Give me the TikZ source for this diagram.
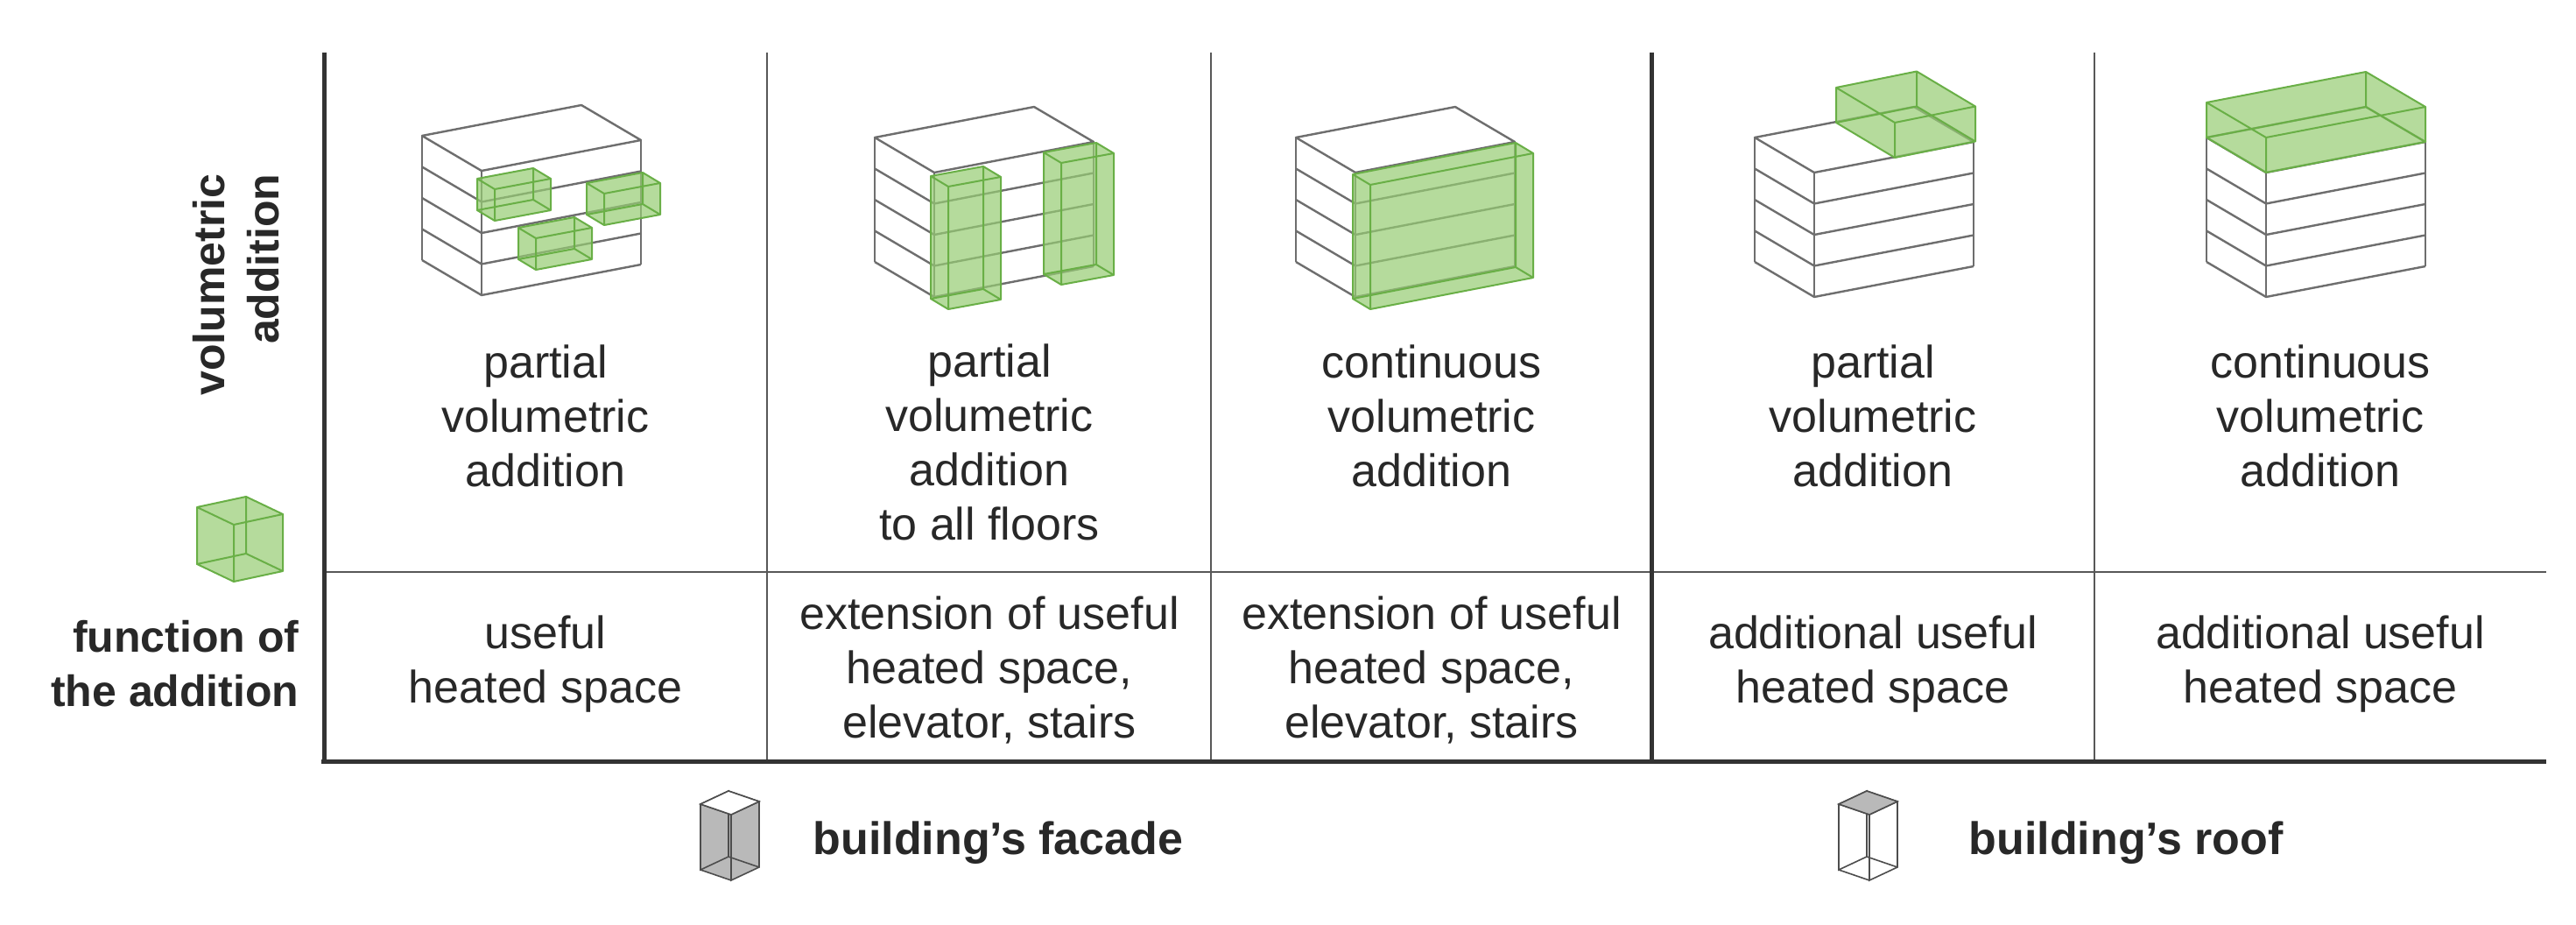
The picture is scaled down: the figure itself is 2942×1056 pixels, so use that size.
\documentclass[tikz,border=0pt]{standalone}
\usepackage{fontspec}
\setmainfont{Liberation Sans}
\usetikzlibrary{calc}
\definecolor{gf}{RGB}{150,205,115}
\definecolor{ge}{RGB}{105,175,70}
\definecolor{ln}{RGB}{110,110,110}
\definecolor{tx}{RGB}{40,40,40}
\tikzset{
  bl/.style={draw=ln,line width=2.4pt,line join=round},
  gedge/.style={draw=ge,line width=2pt,line join=round},
  gfil/.style={fill=gf,fill opacity=0.7},
  grid/.style={draw=ln!80!black,line width=2.6pt},
  thick grid/.style={draw=black!80,line width=5pt},
  lbl/.style={font=\fontsize{52}{62}\selectfont,text=tx,align=center},
  blbl/.style={font=\fontsize{50}{62}\selectfont\bfseries,text=tx},
}
% building: front-top corner
\newcommand\bldg[2]{%
  \draw[bl] (#1,#2) -- ++(-68,-40) -- ++(182,-35) -- ++(68,40) -- cycle;
  \draw[bl] ($(#1,#2)+(-68,-40)$) -- ++(0,142);
  \draw[bl] (#1,#2) -- ++(0,142);
  \draw[bl] ($(#1,#2)+(182,-35)$) -- ++(0,142);
  \foreach \k in {1,...,4}{
    \draw[bl] ($(#1,#2)+(-68,-40)+(0,35.5*\k)$) -- ($(#1,#2)+(0,35.5*\k)$) -- ++(182,-35);}
}
% box: o, a, b, h, fill style, edge style
\newcommand\mybox[9]{%
  \coordinate (o) at (#1,#2);
  \coordinate (oa) at ($(o)+(#3,#4)$);
  \coordinate (ob) at ($(o)+(#5,#6)$);
  \coordinate (oab) at ($(oa)+(#5,#6)$);
  \coordinate (ot) at ($(o)+(0,-#7)$);
  \coordinate (oat) at ($(oa)+(0,-#7)$);
  \coordinate (obt) at ($(ob)+(0,-#7)$);
  \coordinate (oabt) at ($(oab)+(0,-#7)$);
  \fill[#8] (o)--(oa)--(oat)--(oabt)--(obt)--(ob)--cycle;
  \draw[#9] (o)--(oa)--(oat)--(ot)--cycle (ob)--(oab)--(oabt)--(obt)--cycle
    (o)--(ob) (oa)--(oab) (ot)--(obt) (oat)--(oabt);
}
\newcommand\gbox[7]{\mybox{#1}{#2}{#3}{#4}{#5}{#6}{#7}{gfil}{gedge}}
\begin{document}
\begin{tikzpicture}[x=1pt,y=-1pt]
\useasboundingbox (0,0) rectangle (2942,1056);
\fill[white] (0,0) rectangle (2942,1056);
% table
\coordinate (tl) at (370,60);
\draw[grid] (876,60) -- (876,869) (1383,60) -- (1383,869) (2392,60) -- (2392,869);
\draw[grid] (370,653) -- (2908,653);
\draw[thick grid] (370,60) -- (370,869) (1886,60) -- (1886,869);
\draw[thick grid] (367,869) -- (2908,869);
% buildings
\bldg{550}{195}
\gbox{565}{252}{64}{-12}{-20}{-12}{36}
\gbox{690}{257}{64}{-12}{-20}{-12}{36}
\gbox{612}{308}{64}{-12}{-20}{-12}{36}
\bldg{1067}{197}
\gbox{1083}{353}{60}{-11}{-20}{-12}{140}
\gbox{1212}{325}{60}{-11}{-20}{-12}{139}
\bldg{1548}{197}
\gbox{1565}{353}{186}{-36}{-20}{-12}{142}
\bldg{2072}{197}
\gbox{2164}{180}{92}{-18.5}{-67}{-40}{40}
\bldg{2588}{197}
\gbox{2588}{197}{182}{-35}{-68}{-40}{40}
% texts row 1
\node[lbl] (t1) at (623,475) {partial\\volumetric\\addition};
\node[lbl] (t2) at (1130,505) {partial\\volumetric\\addition\\to all floors};
\node[lbl] (t3) at (1635,475) {continuous\\volumetric\\addition};
\node[lbl] (t4) at (2139,475) {partial\\volumetric\\addition};
\node[lbl] (t5) at (2650,475) {continuous\\volumetric\\addition};
% texts row 2
\node[lbl] (f1) at (623,758) {useful\\heated space};
\node[lbl] (f2) at (1130,765) {extension of useful\\heated space,\\elevator, stairs};
\node[lbl] (f3) at (1635,765) {extension of useful\\heated space,\\elevator, stairs};
\node[lbl] (f4) at (2139,758) {additional useful\\heated space};
\node[lbl] (f5) at (2650,758) {additional useful\\heated space};
% left labels
\node[blbl,align=right,anchor=east] (fn) at (345,758) {function of\\the addition};
\node[blbl,align=right,rotate=90,anchor=east] (va) at (270,195) {volumetric\\addition};
\gbox{267}{664}{56}{-12}{-42}{-20}{65}
% legend
\mybox{835}{1005}{32}{-15}{-35}{-12}{75}{fill=gray!55}{draw=ln!70!black,line width=1.6pt}
\fill[white] (835,930) -- ++(32,-15) -- ++(-35,-12) -- ++(-32,15) -- cycle;
\draw[draw=ln!70!black,line width=1.6pt] (835,930) -- ++(32,-15) -- ++(-35,-12) -- ++(-32,15) -- cycle;
\node[blbl,font=\fontsize{52}{62}\selectfont\bfseries,anchor=west] (lf) at (925,962) {building’s facade};
\mybox{2135}{1005}{32}{-15}{-35}{-12}{75}{fill=white}{draw=ln!70!black,line width=1.6pt}
\fill[gray!55] (2135,930) -- ++(32,-15) -- ++(-35,-12) -- ++(-32,15) -- cycle;
\draw[draw=ln!70!black,line width=1.6pt] (2135,930) -- ++(32,-15) -- ++(-35,-12) -- ++(-32,15) -- cycle;
\node[blbl,font=\fontsize{52}{62}\selectfont\bfseries,anchor=west] (lr) at (2245,962) {building’s roof};
\end{tikzpicture}
\end{document}
